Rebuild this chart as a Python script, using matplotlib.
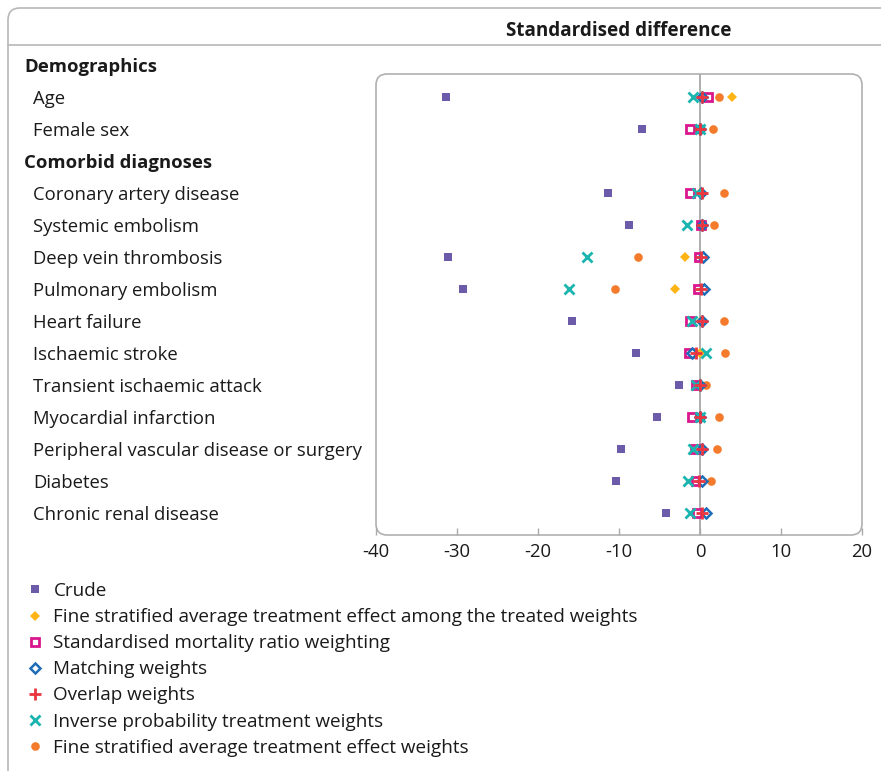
import matplotlib
matplotlib.use("Agg")
import matplotlib.pyplot as plt
from matplotlib.patches import FancyBboxPatch
from matplotlib.lines import Line2D
import matplotlib.transforms as mtransforms

plt.rcParams['font.family'] = ['Open Sans', 'DejaVu Sans']

# ---------------- data ----------------
rows = ["Demographics", "Age", "Female sex", "Comorbid diagnoses",
        "Coronary artery disease", "Systemic embolism", "Deep vein thrombosis",
        "Pulmonary embolism", "Heart failure", "Ischaemic stroke",
        "Transient ischaemic attack", "Myocardial infarction",
        "Peripheral vascular disease or surgery", "Diabetes", "Chronic renal disease"]
headers = ["Demographics", "Comorbid diagnoses"]
variables = [r for r in rows if r not in headers]

series_names = ["Crude",
                "Fine stratified average treatment effect among the treated weights",
                "Standardised mortality ratio weighting",
                "Matching weights",
                "Overlap weights",
                "Inverse probability treatment weights",
                "Fine stratified average treatment effect weights"]

crude   = [-31.4, -7.2, -11.3, -8.8, -31.1, -29.2, -15.8, -7.9, -2.6, -5.3, -9.7, -10.4, -4.2]
fs_att  = [4.0, 0.0, 0.0, 0.1, -1.8, -3.1, 0.1, 0.0, 0.0, 0.0, 0.1, 0.0, 0.1]
smrw    = [0.95, -1.2, -1.2, 0.1, -0.1, -0.3, -1.2, -1.3, -0.5, -1.0, -0.6, -0.5, -0.4]
mw      = [0.3, 0.0, 0.1, 0.2, 0.4, 0.5, 0.3, -1.0, 0.0, 0.0, 0.3, 0.2, 0.7]
ow      = [0.3, 0.0, 0.2, 0.2, 0.1, 0.1, 0.3, -0.5, 0.0, 0.0, 0.2, -0.1, 0.3]
iptw    = [-0.9, 0.0, -0.4, -1.6, -14.0, -16.2, -1.0, 0.7, -0.5, 0.0, -0.9, -1.5, -1.2]
fs_ate  = [2.4, 1.6, 3.0, 1.7, -7.6, -10.5, 3.0, 3.1, 0.7, 2.4, 2.1, 1.4, -0.7]

x_ticks = [-40, -30, -20, -10, 0, 10, 20]
x_title = "Standardised difference"

# ---------------- figure ----------------
W, H = 881, 771
fig = plt.figure(figsize=(W / 100, H / 100), dpi=100)
FS = 13.3
FS_LEG = 13.6

def fx(px):
    return px / W

def fy(py):
    return 1 - py / H

ax_l, ax_r, ax_t, ax_b = 376, 862, 74, 535
ax = fig.add_axes([fx(ax_l), fy(ax_b), fx(ax_r - ax_l), (ax_b - ax_t) / H])
for s in ax.spines.values():
    s.set_visible(False)
ax.set_facecolor('none')

ypos = {r: i - 1 for i, r in enumerate(rows)}  # Demographics at -1
yv = [ypos[v] for v in variables]

ax.set_xlim(-40, 20)
ax.set_ylim(13 + 22 / 32, -23 / 32)

ax.axvline(0, color='#a8a8a8', lw=1.3, zorder=1)

styles = [
    dict(marker='s', ms=5.4, color='#6B5BA8', mec='#6B5BA8', mew=0, ls='none'),
    dict(marker='D', ms=4.8, color='#FDB515', mec='#FDB515', mew=0, ls='none'),
    dict(marker='s', ms=5.2, color='#D9178D', mfc='white', mec='#D9178D', mew=2.0, ls='none'),
    dict(marker='D', ms=5.2, color='#1F6DB6', mfc='white', mec='#1F6DB6', mew=1.8, ls='none'),
    dict(marker='+', ms=8.5, color='#EA3640', mew=2.0, ls='none'),
    dict(marker='x', ms=7.0, color='#19B5AE', mew=2.0, ls='none'),
    dict(marker='o', ms=6.2, color='#F47B2C', mec='#F47B2C', mew=0, ls='none'),
]
all_series = [crude, fs_att, smrw, mw, ow, iptw, fs_ate]
zorders = [3, 3, 4, 4, 6, 5, 3]
handles = []
for vals, st, name, z in zip(all_series, styles, series_names, zorders):
    h, = ax.plot(vals, yv, label=name, zorder=z, clip_on=False, **st)
    handles.append(h)

ax.set_xticks(x_ticks)
ax.set_xticklabels([str(t) for t in x_ticks])
ax.tick_params(axis='x', direction='in', length=5, color='#aaaaaa', width=1,
               labelsize=FS, labelcolor='#1a1a1a', pad=6)
ax.set_yticks([])

# rounded plot frame
frame = FancyBboxPatch((ax_l, H - ax_b), ax_r - ax_l, ax_b - ax_t,
                       boxstyle="round,pad=0,rounding_size=11",
                       transform=None, fill=False, ec='#b0b0b0', lw=1.2, zorder=0)
fig.add_artist(frame)

# outer rounded frame
outer = FancyBboxPatch((8, -20), W + 20 - 8, H - 8 + 20,
                       boxstyle="round,pad=0,rounding_size=12",
                       transform=None, fill=False, ec='#b8b8b8', lw=1.2)
fig.add_artist(outer)
fig.add_artist(Line2D([fx(8), 1.0], [fy(45), fy(45)], color='#b8b8b8', lw=1.2,
                      transform=fig.transFigure))

# header
fig.text(fx((ax_l + ax_r) / 2), fy(28), x_title, ha='center', va='center_baseline',
         fontsize=13.6, fontweight='bold', color='#1a1a1a')

# row labels
trans = mtransforms.blended_transform_factory(fig.transFigure, ax.transData)
for r in rows:
    if r in headers:
        ax.text(fx(24), ypos[r], r, transform=trans, ha='left', va='center_baseline',
                fontsize=FS, fontweight='bold', color='#1a1a1a', clip_on=False)
    else:
        ax.text(fx(33), ypos[r], r, transform=trans, ha='left', va='center_baseline',
                fontsize=FS, color='#1a1a1a', clip_on=False)

# legend
leg = fig.legend(handles=handles, labels=series_names, loc='upper left',
                 bbox_to_anchor=(fx(26), fy(582)), frameon=False,
                 fontsize=FS_LEG, handlelength=1.0, handletextpad=0.45,
                 labelspacing=0.43, borderaxespad=0, borderpad=0)
for t in leg.get_texts():
    t.set_color('#1a1a1a')

fig.savefig("out.png", dpi=100)
